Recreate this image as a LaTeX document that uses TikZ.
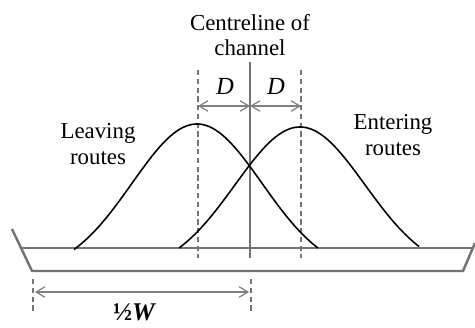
\documentclass[tikz,border=0pt]{standalone}
\usepackage{fontspec}
\setmainfont{Liberation Serif}
\usetikzlibrary{positioning,arrows.meta}

\begin{document}
\begin{tikzpicture}[
      x=0.02cm, y=-0.02cm,
      font=\fontsize{13}{14.5}\selectfont,
      >={Straight Barb[length=5pt,width=6pt]},
      bank/.style={draw=black!55, line width=1.4pt},
      guide/.style={draw=black!55, line width=0.9pt, dash pattern=on 3pt off 2pt},
      dim/.style={draw=black!50, line width=0.7pt, <->},
      route/.style={draw=black, line width=0.9pt},
      lbl/.style={align=center, inner sep=0pt}
  ]
    \useasboundingbox (0,0) rectangle (475,327);

    % channel cross-section
    \coordinate (bankL) at (12,229);
    \coordinate (topL) at (22,248);
    \coordinate (botL) at (32,271);
    \coordinate (bankR) at (475,243);
    \coordinate (topR) at (473,248);
    \coordinate (botR) at (463,271);
    \draw[bank] (bankL) -- (botL) -- (botR) -- (bankR);
    \draw[bank] (topL) -- (topR);

    % centreline and offsets
    \coordinate (cTop) at (250,62);
    \coordinate (cBot) at (250,258);
    \coordinate (lTop) at (198,70);
    \coordinate (lBot) at (198,258);
    \coordinate (rTop) at (301,70);
    \coordinate (rBot) at (301,258);
    \draw[bank, line width=1pt] (cTop) -- (cBot);
    \draw[guide] (lTop) -- (lBot);
    \draw[guide] (rTop) -- (rBot);

    % route profiles
    \draw[route] plot[domain=74:318, samples=80, smooth]
      (\x, {248 - 124*(exp(-(\x-197)^2/8450)-0.177)/0.823});
    \draw[route] plot[domain=179:419, samples=80, smooth]
      (\x, {248 - 121*(exp(-(\x-300)^2/8450)-0.177)/0.823});

    % D dimensions
    \coordinate (dL) at (198,106);
    \coordinate (dC) at (250,106);
    \coordinate (dR) at (301,106);
    \draw[dim] (dL) -- (dC);
    \draw[dim] (dC) -- (dR);
    \node[lbl] (dLeft) at (225,86) {\fontsize{14}{16}\selectfont\textit{D}};
    \node[lbl] (dRight) at (276,86) {\fontsize{14}{16}\selectfont\textit{D}};

    % half width
    \coordinate (wlTop) at (33,279);
    \coordinate (wlBot) at (33,313);
    \coordinate (wrTop) at (251,279);
    \coordinate (wrBot) at (251,313);
    \draw[guide] (wlTop) -- (wlBot);
    \draw[guide] (wrTop) -- (wrBot);
    \coordinate (wL) at (35,292);
    \coordinate (wR) at (249,292);
    \draw[dim] (wL) -- (wR);
    \node[lbl] (halfw) at (134,312) {\fontsize{14.5}{16}\selectfont\bfseries ½\itshape W};

    % labels
    \node[lbl] (centre) at (250,35) {Centreline of\\channel};
    \node[lbl] (leaving) at (98,144) {Leaving\\routes};
    \node[lbl] (entering) at (393,135) {Entering\\routes};
  \end{tikzpicture}
\end{document}
